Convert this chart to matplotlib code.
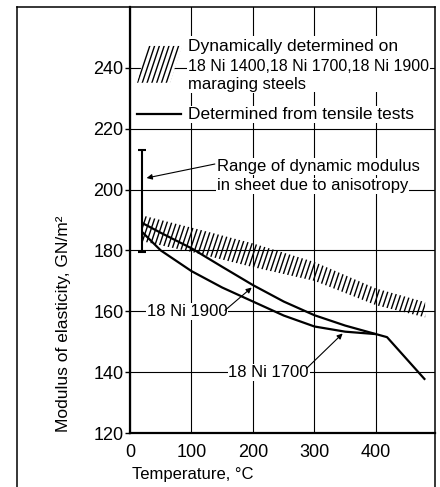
import numpy as np
import matplotlib
matplotlib.use("Agg")
import matplotlib.pyplot as plt
from matplotlib.collections import LineCollection
from matplotlib.lines import Line2D
from matplotlib.patches import Polygon, Rectangle
from matplotlib.path import Path

plt.rcParams["font.family"] = ["Liberation Sans", "DejaVu Sans"]

# Tensile-test curves
temp_1900 = [20, 50, 100, 150, 200, 250, 300, 350, 400, 418, 480]
mod_1900 = [189, 185.8, 180.7, 174.6, 168.6, 163.2, 158.7, 155.3, 152.5, 151.5, 137.5]
temp_1700 = [20, 50, 100, 150, 200, 250, 300, 350, 400]
mod_1700 = [186, 180, 173.2, 167.8, 163.2, 158.6, 155.0, 153.3, 152.5]

# Dynamically determined band
band_temp = [20, 100, 200, 300, 400, 480]
band_upper = [191.5, 187.5, 182.3, 176.2, 167.5, 163.0]
band_lower = [183.0, 179.5, 174.5, 170.0, 162.0, 158.0]

# Range of dynamic modulus in sheet
range_temp = 20
range_low, range_high = 179.5, 213.0

x_ticks = [0, 100, 200, 300, 400]
y_ticks = [120, 140, 160, 180, 200, 220, 240]

W, H = 440, 487
fig = plt.figure(figsize=(W / 100, H / 100), dpi=100)
ax = fig.add_axes([130 / W, 1 - 433 / H, 305 / W, 426 / H])
ax.set_xlim(0, 496)
ax.set_ylim(120, 260)

ax.set_xticks(x_ticks)
ax.set_yticks(y_ticks)
ax.tick_params(axis="y", length=3.6, width=1, pad=1, labelsize=13, direction="out")
ax.tick_params(axis="x", length=0, pad=8, labelsize=13)
ax.grid(True, color="black", lw=0.8, zorder=0)
ax.set_axisbelow(True)
for s in ("top", "right"):
    ax.spines[s].set_visible(False)
for s in ("left", "bottom"):
    ax.spines[s].set_linewidth(1.6)

# frame round the figure
for xs, ys in (([17, 17], [7, H]), ([17, 435], [7, 7]), ([435, 435], [7, H])):
    fig.add_artist(Line2D([x / W for x in xs], [1 - y / H for y in ys],
                          transform=fig.transFigure, color="black", lw=1.1))

ax_w_px, ax_h_px = 305, 426


def hatch_collection(clip_verts, spacing_px=4.6, slope=3.0, z=3):
    dx = ax_h_px / slope / ax_w_px
    starts = np.arange(-dx - 0.05, 1.05, spacing_px / ax_w_px)
    segs = [[(s, 0), (s + dx, 1)] for s in starts]
    lc = LineCollection(segs, colors="black", linewidths=1.0,
                        transform=ax.transAxes, zorder=z)
    lc.set_clip_path(Path(clip_verts), ax.transData)
    ax.add_collection(lc)


band_verts = list(zip(band_temp, band_upper)) + list(zip(band_temp[::-1], band_lower[::-1]))
hatch_collection(band_verts)

# tensile curves
ax.plot(temp_1900, mod_1900, color="black", lw=1.6, zorder=4, solid_capstyle="butt")
ax.plot(temp_1700, mod_1700, color="black", lw=1.6, zorder=4, solid_capstyle="butt")

# anisotropy range bar
ax.errorbar([range_temp], [(range_low + range_high) / 2],
            yerr=[[(range_high - range_low) / 2], [(range_high - range_low) / 2]],
            fmt="none", ecolor="black", elinewidth=1.5, capsize=3, capthick=1.5, zorder=5)

tb = dict(boxstyle="square,pad=0.05", fc="white", ec="none")

# legend: hatched swatch
sw = [(11.4, 235.1), (65, 235.1), (84.5, 247.2), (27.6, 247.2)]
ax.add_patch(Polygon(sw, closed=True, fc="white", ec="none", zorder=2))
hatch_collection(sw, spacing_px=4.8, slope=3.0)
ax.add_patch(Rectangle((93.5, 232.0), 390, 18.5, fc="white", ec="none", zorder=2))
ax.text(94.3, 245.6, "Dynamically determined on", fontsize=12.5, va="baseline",
        ha="left", bbox=tb, zorder=3)
ax.text(94.3, 239.0, "18 Ni 1400,18 Ni 1700,18 Ni 1900", fontsize=11.5, va="baseline",
        ha="left", bbox=tb, zorder=3)
ax.text(94.3, 233.0, "maraging steels", fontsize=12, va="baseline",
        ha="left", bbox=tb, zorder=3)

# legend: solid line
ax.plot([11.4, 82.9], [224.9, 224.9], color="black", lw=1.6, zorder=4)
ax.text(94.3, 223.3, "Determined from tensile tests", fontsize=12.5, va="baseline",
        ha="left", bbox=tb, zorder=3)

# annotations
ax.text(141.5, 206.2, "Range of dynamic modulus", fontsize=12, va="baseline",
        ha="left", bbox=tb, zorder=3)
ax.text(141.5, 199.7, "in sheet due to anisotropy", fontsize=12, va="baseline",
        ha="left", bbox=tb, zorder=3)
ax.annotate("", xy=(27, 203.8), xytext=(138, 208.4),
            arrowprops=dict(arrowstyle="-|>", lw=0.8, color="black", mutation_scale=8,
                            shrinkA=0, shrinkB=0), zorder=5)

ax.text(27, 158.4, "18 Ni 1900", fontsize=12, va="baseline", ha="left", bbox=tb, zorder=3)
ax.annotate("", xy=(197.9, 167.8), xytext=(154.5, 160.3),
            arrowprops=dict(arrowstyle="-|>", lw=0.8, color="black", mutation_scale=8,
                            shrinkA=0, shrinkB=0), zorder=5)

ax.text(160, 138.3, "18 Ni 1700", fontsize=12, va="baseline", ha="left", bbox=tb, zorder=3)
ax.annotate("", xy=(345.8, 152.7), xytext=(287, 141.2),
            arrowprops=dict(arrowstyle="-|>", lw=0.8, color="black", mutation_scale=8,
                            shrinkA=0, shrinkB=0), zorder=5)

# axis titles
fig.text(63 / W, 1 - 432 / H, "Modulus of elasticity, GN/m²", rotation=90,
         ha="center", va="bottom", fontsize=12.5)
fig.text(132 / W, 1 - 475 / H, "Temperature, °C", ha="left", va="center", fontsize=12)

fig.savefig("out.png", dpi=100)
